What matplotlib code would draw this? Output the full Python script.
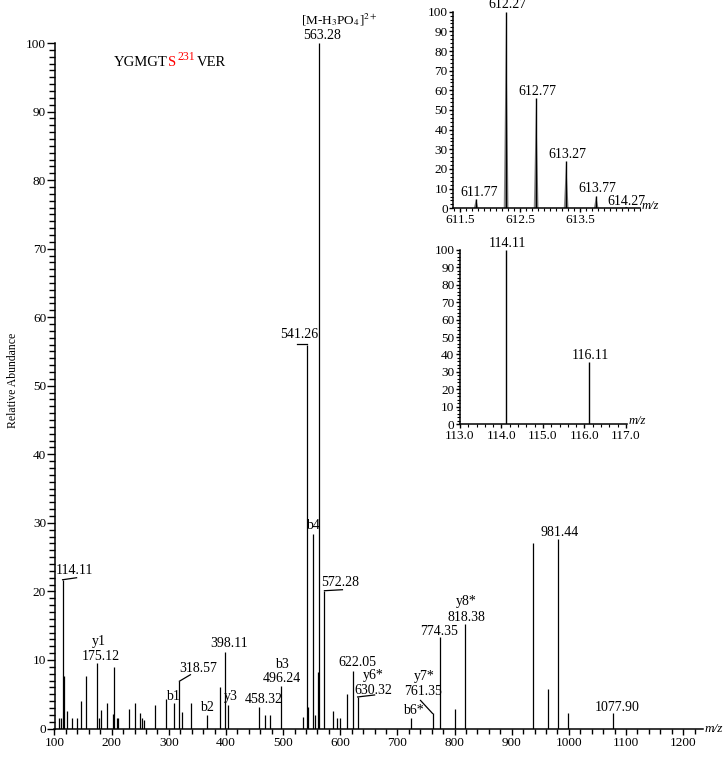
import matplotlib.pyplot as plt
from matplotlib.ticker import MultipleLocator, FixedLocator

plt.rcParams['font.family'] = ['Liberation Serif', 'DejaVu Serif']
plt.rcParams['mathtext.fontset'] = 'stix'

# ---- main MS/MS spectrum (m/z, relative abundance) ----
mz = [107.5, 110.5, 114.11, 116.3, 122.0, 131.0, 139.7, 146.0, 154.7, 175.12,
      177.5, 182.2, 192.1, 202.6, 204.4, 209.6, 211.4, 229.9, 240.4, 250.3,
      253.3, 256.5, 276.0, 295.8, 309.8, 318.57, 323.0, 339.0, 367.0, 389.7,
      398.11, 403.6, 458.32, 469.0, 477.6, 496.24, 534.8, 541.26, 543.5, 553.0,
      555.7, 561.0, 563.28, 572.28, 587.0, 595.0, 600.0, 611.7, 622.05, 630.32,
      723.5, 761.35, 774.35, 801.0, 818.38, 938.0, 963.0, 981.44, 998.6, 1077.90]
intensity = [1.5, 1.5, 21.7, 7.7, 2.5, 1.6, 1.6, 4.0, 7.7, 9.6,
             1.6, 2.7, 3.7, 2.1, 9.0, 1.6, 1.6, 2.8, 3.7, 2.3,
             1.5, 1.3, 3.5, 4.3, 3.7, 6.9, 2.4, 3.7, 1.9, 6.0,
             11.2, 3.5, 3.1, 1.9, 1.9, 6.2, 1.7, 56.0, 3.1, 28.4,
             2.0, 8.3, 100.0, 20.1, 2.5, 1.6, 1.6, 5.0, 8.4, 4.6,
             1.6, 2.2, 13.3, 2.9, 15.2, 27.0, 5.8, 27.6, 2.3, 2.2]

value_labels = ['114.11', '175.12', '318.57', '398.11', '458.32', '496.24', '541.26',
                '563.28', '572.28', '622.05', '630.32', '761.35', '774.35', '818.38',
                '981.44', '1077.90']
ion_names = {175.12: 'y1', 309.8: 'b1', 367.0: 'b2', 403.6: 'y3', 496.24: 'b3',
             553.0: 'b4', 630.32: 'y6*', 723.5: 'b6*', 761.35: 'y7*', 818.38: 'y8*'}
precursor_label = '[M-H$_3$PO$_4$]$^{2+}$'
peptide = ['YGMGT', 'S', '231', 'VER']

# ---- inset: isotope cluster of precursor ----
iso_mz = [611.77, 612.27, 612.77, 613.27, 613.77, 614.27]
iso_int = [4.9, 100.0, 55.9, 24.2, 6.4, 0.8]

# ---- inset: reporter ions ----
rep_mz = [114.11, 116.11]
rep_int = [100.0, 35.8]

W, H = 724, 757
fig = plt.figure(figsize=(W / 100, H / 100), dpi=100)


def px_axes(left, top, right, bottom):
    return fig.add_axes([left / W, 1 - bottom / H, (right - left) / W, (bottom - top) / H])


def style_axes(ax):
    for s in ['top', 'right']:
        ax.spines[s].set_visible(False)
    for s in ['left', 'bottom']:
        ax.spines[s].set_linewidth(1.1)


def label(ax, m, h, text, dx, dy, size=10):
    ax.annotate(text, xy=(m, h), xytext=(dx, dy), textcoords='offset pixels',
                ha='center', va='center', fontsize=size, annotation_clip=False)


def leader(ax, m, h, offsets):
    # short connector from a peak top to its label, given in pixel offsets
    x0, y0 = ax.transData.transform((m, h))
    pts = [ax.transData.inverted().transform((x0 + ox, y0 + oy)) for ox, oy in offsets]
    ax.plot([p[0] for p in pts], [p[1] for p in pts], color='black', lw=0.9, clip_on=False)


# main axes
ax = px_axes(54.5, 43, 703, 728.5)
style_axes(ax)
ax.vlines(mz, 0, intensity, color='black', lw=0.9)
ax.set_xlim(100, 1234.6)
ax.set_ylim(0, 100)
ax.xaxis.set_major_locator(MultipleLocator(100))
ax.xaxis.set_minor_locator(MultipleLocator(20))
ax.yaxis.set_major_locator(MultipleLocator(10))
ax.yaxis.set_minor_locator(MultipleLocator(1))
ax.tick_params(axis='y', which='major', length=5.5, width=1, pad=0.5, labelsize=9.5)
ax.tick_params(axis='y', which='minor', length=4, width=1)
ax.tick_params(axis='x', which='major', length=4, width=1, pad=2, labelsize=9.5)
ax.tick_params(axis='x', which='minor', length=3.5, width=1)
ax.set_ylabel('Relative Abundance', fontsize=8.5)
ax.yaxis.set_label_coords((19 - 54.5) / 648.5, (728.5 - 380) / 685.5)
ax.annotate('m/z', xy=(1, 0), xycoords='axes fraction', xytext=(2, -1),
            textcoords='offset pixels', ha='left', va='center', fontsize=9.5, style='italic')

value_pos = {'114.11': (12, 9), '175.12': (3, 6), '318.57': (18.5, 13), '398.11': (4.5, 8),
             '458.32': (4, 7.3), '496.24': (1, 7.7), '541.26': (-7.3, 10), '563.28': (2.3, 7.8),
             '572.28': (16, 8.5), '622.05': (4.8, 8), '630.32': (15.6, 6.7),
             '761.35': (-9.8, 22), '774.35': (-0.7, 5.8), '818.38': (1, 6.6),
             '981.44': (1.3, 7.3), '1077.90': (3.8, 5.8)}
name_pos = {175.12: (1, 21.5), 309.8: (-1, 6.5), 367.0: (0, 7.7), 403.6: (3.3, 8),
            496.24: (0.6, 21), 553.0: (0, 8), 630.32: (16, 21), 723.5: (2.6, 6.6),
            761.35: (-8.3, 37), 818.38: (1.7, 23)}
leaders = {'114.11': [(0, 0), (14, 2)], '318.57': [(0, 0), (11, 6.5)],
           '541.26': [(0, 0.5), (-10, 0.5)], '572.28': [(0, 0), (18, 1)],
           '630.32': [(0, 0), (17, 2)], '761.35': [(0, 0), (-12, 13)]}

for t in value_labels:
    m = float(t)
    h = intensity[mz.index(m)]
    dx, dy = value_pos[t]
    label(ax, m, h, t, dx, dy)
    if t in leaders:
        leader(ax, m, h, leaders[t])

for m, name in ion_names.items():
    h = intensity[mz.index(m)]
    dx, dy = name_pos[m]
    label(ax, m, h, name, dx, dy)

ax.annotate(precursor_label, xy=(563.28, 100), xytext=(-18, 23.3), textcoords='offset pixels',
            ha='left', va='center', fontsize=9.5, annotation_clip=False)

# peptide sequence with red modified site
t0 = ax.text((114 - 54.5) / 648.5, (728.5 - 62) / 685.5, peptide[0], transform=ax.transAxes,
             ha='left', va='center', fontsize=10.5)
t1 = ax.annotate(peptide[1], xycoords=t0, xy=(1, 0), va='bottom', fontsize=10.5, color='red')
t2 = ax.annotate(peptide[2], xycoords=t1, xy=(1, 0.45), xytext=(1, 0), textcoords='offset pixels',
                 va='bottom', fontsize=8.5, color='red')
ax.annotate(peptide[3], xycoords=(t2, t1), xy=(1, 0), xytext=(2, 0), textcoords='offset pixels',
            va='bottom', fontsize=10.5)

# inset 1: isotope cluster
ax1 = px_axes(453.3, 11.7, 640, 208.3)
style_axes(ax1)
hw = 0.04
for m, h in zip(iso_mz, iso_int):
    ax1.fill([m - hw, m, m + hw], [0, h, 0], color='#8a8a8a', lw=0)
ax1.vlines(iso_mz, 0, iso_int, color='black', lw=1.0)
ax1.set_xlim(611.39, 614.50)
ax1.set_ylim(0, 100)
ax1.xaxis.set_major_locator(FixedLocator([611.5, 612.5, 613.5]))
ax1.xaxis.set_minor_locator(MultipleLocator(0.1))
ax1.yaxis.set_major_locator(MultipleLocator(10))
ax1.yaxis.set_minor_locator(MultipleLocator(2))
ax1.tick_params(which='major', length=3, width=1, pad=1, labelsize=9.5)
ax1.tick_params(which='minor', length=2, width=0.8)
iso_pos = [(3, 6), (1, 7.5), (1, 7), (1, 6.7), (1, 7.7), (0.7, 5.7)]
for m, h, (dx, dy) in zip(iso_mz, iso_int, iso_pos):
    label(ax1, m, h, f'{m:.2f}', dx, dy)
ax1.annotate('m/z', xy=(1, 0), xycoords='axes fraction', xytext=(2, 2),
             textcoords='offset pixels', ha='left', va='center', fontsize=9, style='italic')

# inset 2: reporter ions
ax2 = px_axes(460, 250, 626.7, 424)
style_axes(ax2)
ax2.vlines(rep_mz, 0, rep_int, color='black', lw=1.0)
ax2.set_xlim(113.0, 117.02)
ax2.set_ylim(0, 100)
ax2.xaxis.set_major_locator(MultipleLocator(1))
ax2.xaxis.set_minor_locator(MultipleLocator(0.2))
ax2.xaxis.set_major_formatter('{x:.1f}')
ax2.yaxis.set_major_locator(MultipleLocator(10))
ax2.yaxis.set_minor_locator(MultipleLocator(2))
ax2.tick_params(which='major', length=3, width=1, pad=1, labelsize=9.5)
ax2.tick_params(which='minor', length=2, width=0.8)
for m, h in zip(rep_mz, rep_int):
    label(ax2, m, h, f'{m:.2f}', 1.5, 6.7)
ax2.annotate('m/z', xy=(1, 0), xycoords='axes fraction', xytext=(2, 3),
             textcoords='offset pixels', ha='left', va='center', fontsize=9, style='italic')

fig.savefig('out.png', dpi=100)
